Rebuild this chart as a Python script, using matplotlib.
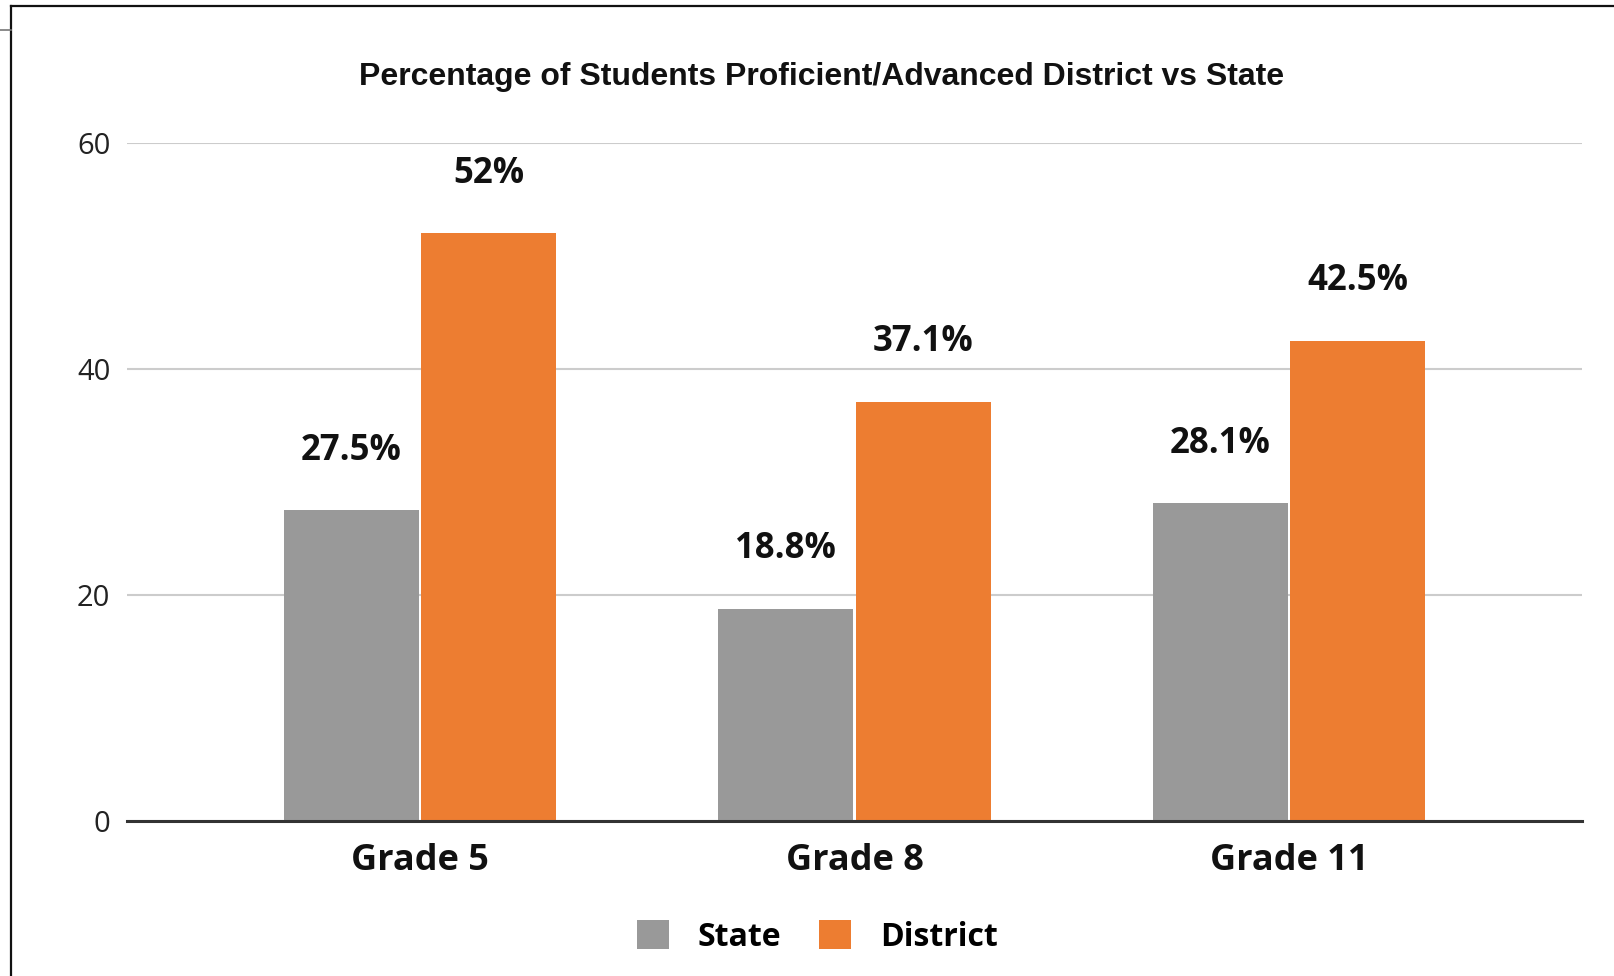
import matplotlib.pyplot as plt
from matplotlib.lines import Line2D
from matplotlib.patches import Patch
import numpy as np

grades = ["Grade 5", "Grade 8", "Grade 11"]
state = [27.5, 18.8, 28.1]
district = [52, 37.1, 42.5]
state_labels = ["27.5%", "18.8%", "28.1%"]
district_labels = ["52%", "37.1%", "42.5%"]
yticks = [0, 20, 40, 60]

grey = "#999999"
orange = "#ED7D31"

fig = plt.figure(figsize=(16.15, 9.76), dpi=100)
ax = fig.add_axes([0.0786, 0.1588, 0.901, 0.6947])

x = np.arange(len(grades))
w = 0.31
off = 0.158
ax.bar(x - off, state, width=w, color=grey, zorder=3, label="State")
ax.bar(x + off, district, width=w, color=orange, zorder=3, label="District")

for xi, v, s in zip(x, state, state_labels):
    ax.annotate(s, (xi - off, v), xytext=(0, 43), textcoords="offset points",
                ha="center", va="center", fontsize=25, fontweight="bold",
                family="Open Sans", color="#111111")
for xi, v, s in zip(x, district, district_labels):
    ax.annotate(s, (xi + off, v), xytext=(0, 43), textcoords="offset points",
                ha="center", va="center", fontsize=25, fontweight="bold",
                family="Open Sans", color="#111111")

ax.set_xlim(-0.674, 2.674)
ax.set_ylim(0, 60)
ax.set_yticks(yticks)
ax.set_yticklabels([str(t) for t in yticks], family="Open Sans", fontsize=21, color="#222222")
ax.set_xticks(x)
ax.set_xticklabels(grades, family="Open Sans", fontsize=26, fontweight="bold", color="#111111")
ax.tick_params(axis="y", length=0, pad=12)
ax.tick_params(axis="x", length=0, pad=16)
ax.grid(axis="y", color="#cccccc", linewidth=1.5, zorder=0)
ax.set_axisbelow(True)
for side in ["top", "right", "left"]:
    ax.spines[side].set_visible(False)
ax.spines["bottom"].set_color("#333333")
ax.spines["bottom"].set_linewidth(2.2)
ax.spines["bottom"].set_zorder(4)

fig.text(0.509, 0.921, "Percentage of Students Proficient/Advanced District vs State",
         ha="center", va="center", fontsize=23, fontweight="bold",
         family="Liberation Sans", color="#111111")

handles = [Patch(facecolor=grey, label="State"), Patch(facecolor=orange, label="District")]
leg = fig.legend(handles=handles, loc="center", bbox_to_anchor=(0.506, 0.04), ncol=2,
                 frameon=False, prop={"family": "Open Sans", "weight": "bold", "size": 23},
                 handlelength=1.0, handleheight=1.0, handletextpad=0.9, columnspacing=1.2)

# page frame edges
fig.add_artist(Line2D([11 / 1615, 1], [1 - 6 / 976, 1 - 6 / 976], color="#111111", linewidth=1.6))
fig.add_artist(Line2D([11 / 1615, 11 / 1615], [0, 1 - 6 / 976], color="#111111", linewidth=1.6))
fig.add_artist(Line2D([0, 11 / 1615], [1 - 30 / 976, 1 - 30 / 976], color="#777777", linewidth=1.2))

fig.savefig("out.png", dpi=100)
